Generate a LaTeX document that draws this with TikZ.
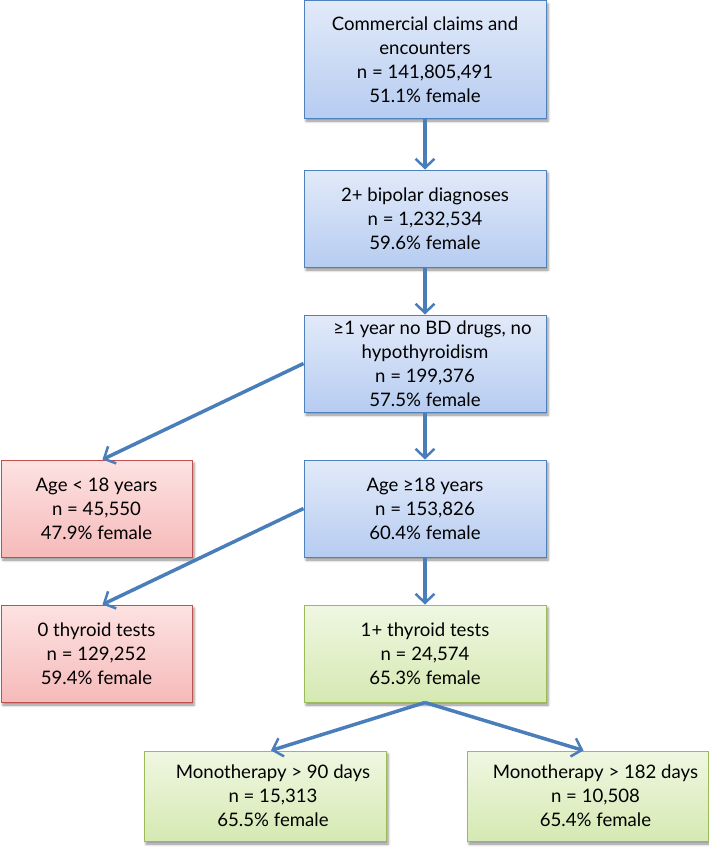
\documentclass[tikz,border=0pt]{standalone}
\usepackage{fontspec}
\setmainfont{Lato}
\usetikzlibrary{arrows.meta,shadows.blur}
\definecolor{btop}{RGB}{226,234,249}
\definecolor{bbot}{RGB}{182,204,241}
\definecolor{bline}{RGB}{79,129,189}
\definecolor{rtop}{RGB}{253,226,226}
\definecolor{rbot}{RGB}{246,186,186}
\definecolor{rline}{RGB}{192,80,77}
\definecolor{gtop}{RGB}{240,247,226}
\definecolor{gbot}{RGB}{213,233,178}
\definecolor{gline}{RGB}{155,187,89}
\definecolor{acol}{RGB}{74,126,187}
\newcommand{\shr}{\hspace*{16pt}}
\begin{document}
\begin{tikzpicture}[x=1pt,y=1pt,
  font=\fontsize{18.6}{24}\selectfont,
  box/.style={rectangle, line width=1pt, inner sep=0pt, align=center,
    blur shadow={shadow xshift=2pt, shadow yshift=-3pt, shadow blur radius=2.5pt, shadow opacity=45}},
  bluebox/.style={box, draw=bline, top color=btop, bottom color=bbot},
  redbox/.style={box, draw=rline, top color=rtop, bottom color=rbot},
  greenbox/.style={box, draw=gline, top color=gtop, bottom color=gbot},
  arr/.style={draw=acol, line width=3.5pt,
    -{Straight Barb[length=9pt,width=19pt,line width=2.5pt]}}]
\useasboundingbox (0,0) rectangle (709,-851);

\node[bluebox, minimum width=242, minimum height=117] (b1) at (425,-59.5)
  {Commercial claims and\\encounters\\n = 141,805,491\\51.1\% female};
\node[bluebox, minimum width=242, minimum height=97] (b2) at (425,-218.5)
  {2+ bipolar diagnoses\\n = 1,232,534\\59.6\% female};
\node[bluebox, minimum width=242, minimum height=97] (b3) at (425,-363.5)
  {\hspace*{15pt}≥1 year no BD drugs, no\\hypothyroidism\\n = 199,376\\57.5\% female};
\node[bluebox, minimum width=242, minimum height=97] (b4) at (425,-508.5)
  {Age ≥18 years\\n = 153,826\\60.4\% female};
\node[greenbox, minimum width=242, minimum height=97] (b5) at (425,-653.5)
  {1+ thyroid tests\\n = 24,574\\65.3\% female};
\node[redbox, minimum width=191, minimum height=97] (a18) at (96.5,-508.5)
  {Age < 18 years\\n = 45,550\\47.9\% female};
\node[redbox, minimum width=191, minimum height=97] (t0) at (96.5,-653.5)
  {0 thyroid tests\\n = 129,252\\59.4\% female};
\node[greenbox, minimum width=242, minimum height=90] (m90) at (265,-796)
  {\shr Monotherapy > 90 days\\\shr n = 15,313\\\shr 65.5\% female};
\node[greenbox, minimum width=241, minimum height=90] (m182) at (587.5,-796)
  {\shr Monotherapy > 182 days\\\shr n = 10,508\\\shr 65.4\% female};

\draw[arr] (b1.south) -- (b2.north);
\draw[arr] (b2.south) -- (b3.north);
\draw[arr] (b3.south) -- (b4.north);
\draw[arr] (b4.south) -- (b5.north);
\draw[arr] (b3.west) -- ([xshift=6pt]a18.north);
\draw[arr] (b4.west) -- ([xshift=6pt]t0.north);
\draw[arr] (b5.south) -- ([xshift=6pt]m90.north);
\draw[arr] (b5.south) -- ([xshift=-4pt]m182.north);
\end{tikzpicture}
\end{document}
